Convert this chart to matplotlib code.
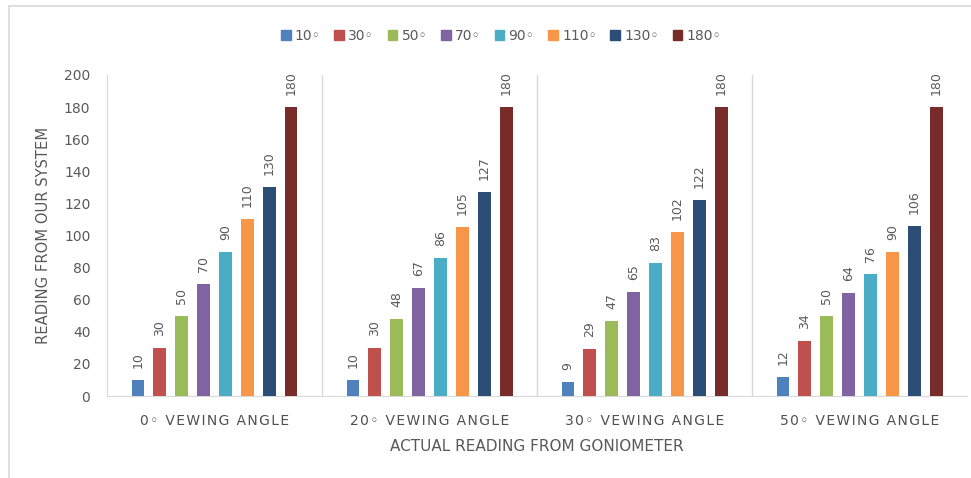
import matplotlib
matplotlib.use("Agg")
import matplotlib.pyplot as plt
from matplotlib.patches import Patch
from matplotlib.lines import Line2D
import numpy as np

# данные
groups = ["0◦ VEWING ANGLE", "20◦ VEWING ANGLE", "30◦ VEWING ANGLE", "50◦ VEWING ANGLE"]
series = ["10◦", "30◦", "50◦", "70◦", "90◦", "110◦", "130◦", "180◦"]
s10 = [10, 10, 9, 12]
s30 = [30, 30, 29, 34]
s50 = [50, 48, 47, 50]
s70 = [70, 67, 65, 64]
s90 = [90, 86, 83, 76]
s110 = [110, 105, 102, 90]
s130 = [130, 127, 122, 106]
s180 = [180, 180, 180, 180]
values = [s10, s30, s50, s70, s90, s110, s130, s180]
colors = ["#4F81BD", "#C0504D", "#9BBB59", "#8064A2",
          "#4BACC6", "#F79646", "#2C4D75", "#772C2A"]

txt = "#595959"
grid = "#D9D9D9"

fig = plt.figure(figsize=(9.71, 4.78), dpi=100)
ax = fig.add_axes([0.1102, 0.1715, 0.8857, 0.6716])

x = np.arange(len(groups))
pitch = 0.102
width = 0.058
for i, (vals, c) in enumerate(zip(values, colors)):
    pos = x + (i - 3.5) * pitch
    ax.bar(pos, vals, width=width, color=c, zorder=3)
    for p, v in zip(pos, vals):
        ax.annotate(str(v), (p, v), xytext=(0, 12), textcoords="offset pixels",
                    rotation=90, ha="center", va="bottom", fontsize=9, color=txt)

ax.set_xlim(-0.5, 3.5)
ax.set_ylim(0, 200)
ax.set_yticks(range(0, 201, 20))
ax.tick_params(axis="y", length=0, pad=12, labelsize=10, labelcolor=txt)
ax.set_xticks(x)
# разреженные буквы как в оригинале
spaced = ["\u200a".join(g) for g in groups]
ax.set_xticklabels(spaced, fontsize=10, color="#505050")
ax.tick_params(axis="x", length=0, pad=13)

# разделители между группами
for b in [0.5, 1.5, 2.5]:
    ax.axvline(b, color=grid, lw=1, zorder=1)
for s in ["top", "right"]:
    ax.spines[s].set_visible(False)
for s in ["left", "bottom"]:
    ax.spines[s].set_color(grid)

ax.set_ylabel("READING FROM OUR SYSTEM", fontsize=10.6, color=txt, labelpad=9)
ax.set_xlabel("ACTUAL READING FROM GONIOMETER", fontsize=11, color=txt, labelpad=8)

handles = [Patch(color=c, label=s) for s, c in zip(series, colors)]
fig.legend(handles=handles, loc="center", bbox_to_anchor=(0.516, 0.925), ncol=8,
           frameon=False, fontsize=10, labelcolor=txt, handlelength=0.7,
           handleheight=0.7, handletextpad=0.3, columnspacing=1.0)

# рамка области диаграммы
fig.add_artist(Line2D([9 / 971, 9 / 971], [0, 1 - 6 / 478], color=grid, lw=1.2,
                      transform=fig.transFigure))
fig.add_artist(Line2D([9 / 971, 1], [1 - 6 / 478, 1 - 6 / 478], color=grid, lw=1.2,
                      transform=fig.transFigure))

fig.savefig("out.png", dpi=100)
